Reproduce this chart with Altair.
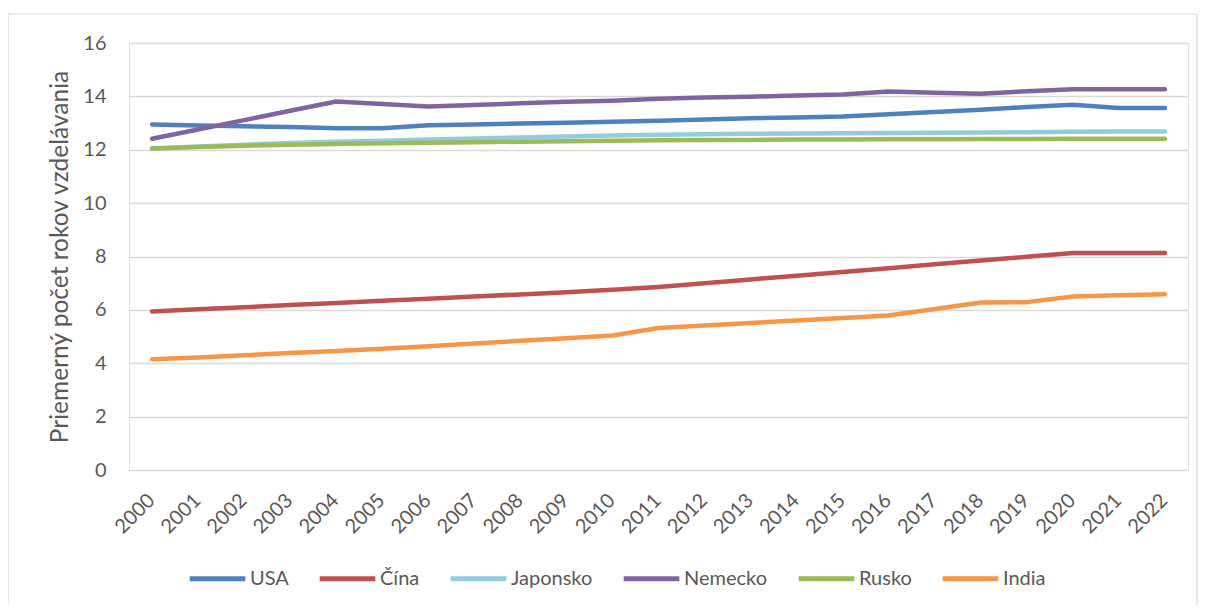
import altair as alt
import pandas as pd

years = [str(y) for y in range(2000, 2023)]

usa = [12.95, 12.91, 12.88, 12.85, 12.81, 12.81, 12.92, 12.95, 12.98, 13.01, 13.05, 13.09, 13.13, 13.18, 13.21, 13.25, 13.33, 13.41, 13.5, 13.6, 13.69, 13.56, 13.56]
cina = [5.94, 6.02, 6.1, 6.18, 6.26, 6.34, 6.42, 6.5, 6.58, 6.66, 6.75, 6.86, 7.0, 7.14, 7.28, 7.42, 7.56, 7.71, 7.85, 7.99, 8.13, 8.13, 8.13]
japonsko = [12.05, 12.12, 12.19, 12.25, 12.3, 12.34, 12.38, 12.42, 12.46, 12.5, 12.53, 12.56, 12.58, 12.6, 12.61, 12.62, 12.63, 12.64, 12.65, 12.66, 12.67, 12.68, 12.68]
nemecko = [12.41, 12.76, 13.11, 13.46, 13.81, 13.71, 13.62, 13.68, 13.74, 13.8, 13.84, 13.91, 13.96, 13.99, 14.03, 14.07, 14.18, 14.14, 14.1, 14.19, 14.27, 14.27, 14.27]
rusko = [12.05, 12.1, 12.15, 12.19, 12.22, 12.24, 12.26, 12.28, 12.3, 12.32, 12.34, 12.36, 12.37, 12.37, 12.38, 12.38, 12.39, 12.39, 12.4, 12.4, 12.41, 12.41, 12.41]
india = [4.15, 4.22, 4.3, 4.38, 4.46, 4.54, 4.64, 4.74, 4.84, 4.94, 5.04, 5.32, 5.41, 5.51, 5.6, 5.7, 5.79, 6.03, 6.28, 6.29, 6.5, 6.55, 6.59]

countries = ["USA", "Čína", "Japonsko", "Nemecko", "Rusko", "India"]
colors = ["#4F81BD", "#C0504D", "#93CDDD", "#8064A2", "#9BBB59", "#F79646"]
series = [usa, cina, japonsko, nemecko, rusko, india]

rows = []
for ci, (c, vals) in enumerate(zip(countries, series)):
    for y, v in zip(years, vals):
        rows.append({"rok": y, "krajina": c, "hodnota": v, "poradie": ci})
df = pd.DataFrame(rows)

FONT = "Lato"
GRAY = "#595959"
W, H = 1059, 427

frame = alt.Chart(pd.DataFrame({"a": [0]})).mark_rect(
    fill=None, stroke="#D9D9D9", strokeWidth=1.2
).encode(
    x=alt.value(-121), x2=alt.value(1068), y=alt.value(-29), y2=alt.value(700)
)

lines = alt.Chart(df).mark_line(
    strokeWidth=4.5, strokeCap="round", strokeJoin="round"
).encode(
    x=alt.X("rok:O", sort=years, scale=alt.Scale(type="point", padding=0.5),
            axis=alt.Axis(title=None, labelAngle=-45, labelAlign="right",
                          labelBaseline="top", labelPadding=20, labelOffset=-8,
                          domain=False, ticks=False, labelFontSize=20,
                          labelFont=FONT, labelColor=GRAY)),
    y=alt.Y("hodnota:Q", scale=alt.Scale(domain=[0, 16], nice=False),
            axis=alt.Axis(title="Priemerný počet rokov vzdelávania",
                          values=list(range(0, 17, 2)), domain=False, ticks=False,
                          gridColor="#D9D9D9", gridWidth=1.5,
                          labelFontSize=20, labelFont=FONT, labelColor=GRAY,
                          labelPadding=23, titleFont=FONT, titleFontSize=24.5,
                          titleFontWeight="normal", titleColor=GRAY,
                          titleAngle=-90, titleX=-69, titleY=H / 2,
                          titleBaseline="middle", titleAlign="center")),
    color=alt.Color("krajina:N", sort=countries,
                    scale=alt.Scale(domain=countries, range=colors),
                    legend=alt.Legend(title=None, orient="none", direction="horizontal",
                                      legendX=58, legendY=505, symbolType="stroke",
                                      symbolSize=3100, symbolStrokeWidth=5,
                                      labelFont=FONT, labelFontSize=20, labelColor=GRAY,
                                      labelOffset=2, columnPadding=20, symbolOffset=0)),
    order=alt.Order("poradie:Q"),
    detail="krajina:N",
)

chart = alt.layer(frame, lines).properties(
    width=W, height=H,
    autosize=alt.AutoSizeParams(type="none"),
    padding={"left": 121, "top": 35, "right": 10, "bottom": 135},
).configure_view(stroke=None).configure(background="white")

chart.save("out.html", embed_options={"renderer": "svg", "actions": False})
